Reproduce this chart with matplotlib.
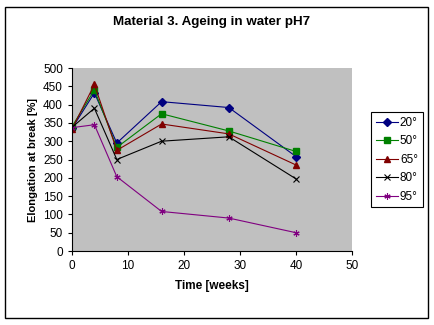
import matplotlib
matplotlib.use('Agg')
import matplotlib.pyplot as plt
from matplotlib.patches import Rectangle

plt.rcParams['font.family'] = ['Liberation Sans', 'DejaVu Sans']

weeks = [0, 4, 8, 16, 28, 40]
t20 = [335, 432, 295, 408, 392, 258]
t50 = [340, 440, 283, 375, 328, 272]
t65 = [333, 455, 275, 347, 320, 235]
t80 = [338, 390, 250, 300, 312, 197]
t95 = [337, 345, 203, 108, 90, 50]
labels = ['20°', '50°', '65°', '80°', '95°']

fig = plt.figure(figsize=(4.35, 3.25), dpi=100)
fig.patches.append(Rectangle((5/435, 7/325), 423/435, 311/325, transform=fig.transFigure,
                             fill=False, edgecolor='black', linewidth=1))
ax = fig.add_axes([72/435, 1 - 251/325, 280/435, 183/325])
ax.set_facecolor('#c0c0c0')

ax.plot(weeks, t20, color='#000080', marker='D', ms=4, lw=0.8, label=labels[0])
ax.plot(weeks, t50, color='#008000', marker='s', ms=4.5, lw=0.8, label=labels[1])
ax.plot(weeks, t65, color='#800000', marker='^', ms=5, lw=0.8, label=labels[2])
ax.plot(weeks, t80, color='black', marker='x', ms=4, mew=0.8, lw=0.8, label=labels[3])
ax.plot(weeks, t95, color='#800080', marker=(6, 2, 0), ms=4.5, mew=0.8, lw=0.8, label=labels[4])

ax.set_xlim(0, 50)
ax.set_ylim(0, 500)
ax.set_xticks(range(0, 51, 10))
ax.set_yticks(range(0, 501, 50))
ax.tick_params(labelsize=8.5, direction='out', length=3, width=0.8)
for s in ['top', 'right']:
    ax.spines[s].set_visible(False)
ax.spines['left'].set_linewidth(0.8)
ax.spines['bottom'].set_linewidth(0.8)

ax.set_xlabel('Time [weeks]', fontsize=8.5, fontweight='bold', labelpad=6)
ax.set_ylabel('Elongation at break [%]', fontsize=8, fontweight='bold', labelpad=4)
fig.text(0.5 * (72 + 352) / 435, 1 - 22/325, 'Material 3. Ageing in water pH7',
         ha='center', va='center', fontsize=9.6, fontweight='bold')

leg = ax.legend(loc='upper left', bbox_to_anchor=(371/435, 1 - 112/325), bbox_transform=fig.transFigure,
                fontsize=8.5, frameon=True, fancybox=False, edgecolor='black', framealpha=1,
                borderpad=0.4, labelspacing=0.55, handlelength=1.9, handletextpad=0.15, borderaxespad=0)
leg.get_frame().set_linewidth(0.8)

fig.savefig('out.png', dpi=100)
